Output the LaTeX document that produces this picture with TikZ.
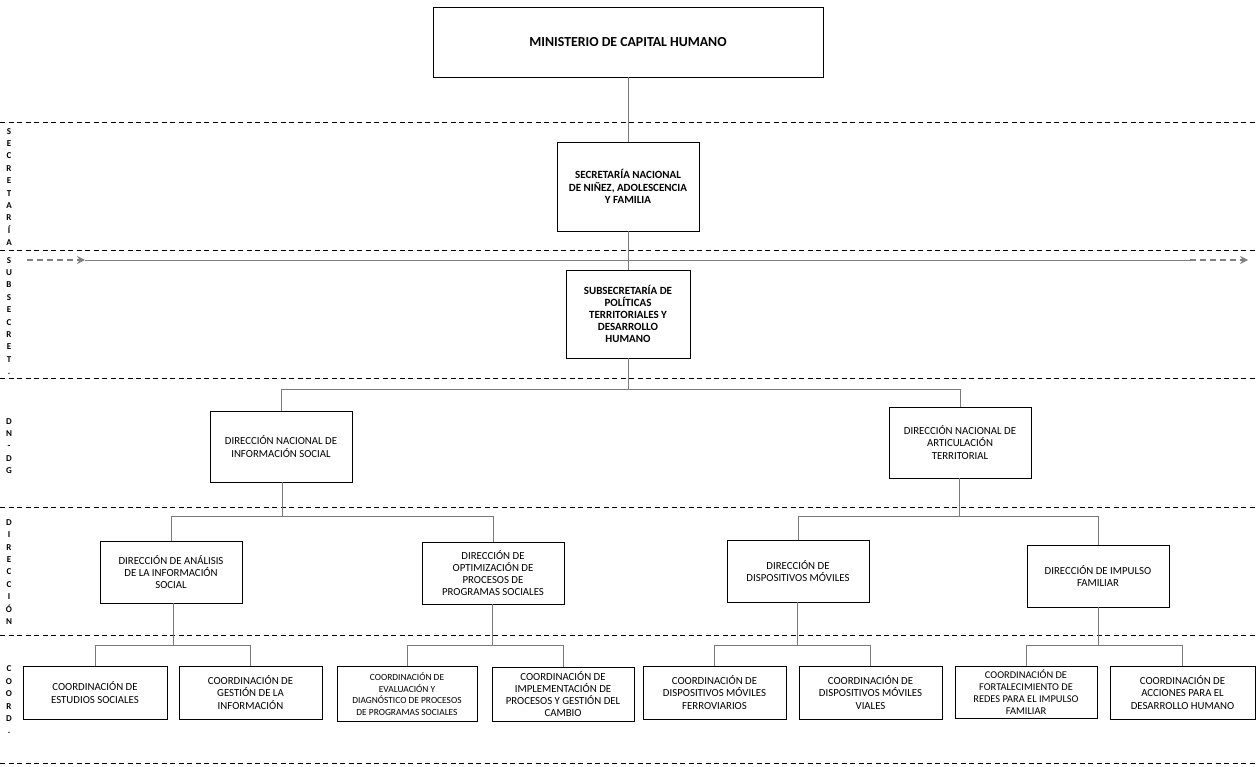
\documentclass[tikz,border=0pt]{standalone}
\usepackage{fontspec}
\setmainfont{Carlito}
\usetikzlibrary{arrows.meta}
\tikzset{
  box/.style={draw=black, line width=0.9pt, fill=white, align=center, inner sep=2pt, font=\fontsize{10.8}{12.2}\selectfont},
  bbox/.style={box, font=\fontsize{11}{12.2}\selectfont\bfseries},
  conn/.style={draw=gray!95!black, line width=0.9pt},
  sep/.style={draw=black, line width=0.8pt, dash pattern=on 5pt off 3.5pt},
  side/.style={align=center, inner sep=0pt, font=\fontsize{9}{12.4}\selectfont\bfseries},
  flow/.style={draw=gray, line width=1.1pt},
}
\begin{document}
\begin{tikzpicture}[x=1pt,y=-1pt]
\useasboundingbox (0,0) rectangle (1258,767);
% separators
\foreach \yy in {122,250,378,507,635,763} \draw[sep] (0,\yy) -- (1258,\yy);
% side labels
\node[side] (lsec) at (9,187) {S\\E\\C\\R\\E\\T\\A\\R\\Í\\A};
\node[side] (lsub) at (9,316) {S\\U\\B\\S\\E\\C\\R\\E\\T\\.};
\node[side] (ldn) at (9,446) {D\\N\\-\\D\\G};
\node[side] (ldir) at (9,572) {D\\I\\R\\E\\C\\C\\I\\Ó\\N};
\node[side] (lco) at (9,700) {C\\O\\O\\R\\D\\.};
% flow arrow
\coordinate (fa) at (27,260);
\coordinate (fb) at (85,260);
\coordinate (fc) at (1190,260);
\coordinate (fd) at (1248,260);
\draw[flow, dash pattern=on 6pt off 4pt, -{Stealth[length=8pt,width=8pt]}] (fa) -- (fb);
\draw[draw=gray, line width=0.9pt] (fb) -- (fc);
\draw[flow, dash pattern=on 6pt off 4pt, -{Stealth[length=8pt,width=8pt]}] (fc) -- (fd);
% boxes
\node[box, font=\fontsize{13.8}{16}\selectfont\bfseries, minimum width=390pt, minimum height=70pt] (min) at (628,42) {MINISTERIO DE CAPITAL HUMANO};
\node[bbox, minimum width=142pt, minimum height=89pt] (sec) at (628,186.5) {SECRETARÍA NACIONAL\\DE NIÑEZ, ADOLESCENCIA\\Y FAMILIA};
\node[bbox, minimum width=124pt, minimum height=88pt] (sub) at (628,314) {SUBSECRETARÍA DE\\POLÍTICAS\\TERRITORIALES Y\\DESARROLLO\\HUMANO};
\node[box, minimum width=142pt, minimum height=71pt] (dn1) at (281,446.5) {DIRECCIÓN NACIONAL DE\\INFORMACIÓN SOCIAL};
\node[box, minimum width=142pt, minimum height=71pt] (dn2) at (960,442.5) {DIRECCIÓN NACIONAL DE\\ARTICULACIÓN\\TERRITORIAL};
\node[box, minimum width=142pt, minimum height=62pt] (d1) at (171,572) {DIRECCIÓN DE ANÁLISIS\\DE LA INFORMACIÓN\\SOCIAL};
\node[box, minimum width=142pt, minimum height=62pt] (d2) at (493,573) {DIRECCIÓN DE\\OPTIMIZACIÓN DE\\PROCESOS DE\\PROGRAMAS SOCIALES};
\node[box, minimum width=142pt, minimum height=62pt] (d3) at (798,571) {DIRECCIÓN DE\\DISPOSITIVOS MÓVILES};
\node[box, minimum width=142pt, minimum height=62pt] (d4) at (1098,576) {DIRECCIÓN DE IMPULSO\\FAMILIAR};
\node[box, minimum width=144pt, minimum height=53pt] (c1) at (95,692.5) {COORDINACIÓN DE\\ESTUDIOS SOCIALES};
\node[box, minimum width=143pt, minimum height=53pt] (c2) at (250.5,692.5) {COORDINACIÓN DE\\GESTIÓN DE LA\\INFORMACIÓN};
\node[box, font=\fontsize{9.4}{11.6}\selectfont, minimum width=140pt, minimum height=55pt] (c3) at (407,694) {COORDINACIÓN DE\\EVALUACIÓN Y\\DIAGNÓSTICO DE PROCESOS\\DE PROGRAMAS SOCIALES};
\node[box, minimum width=142pt, minimum height=54pt] (c4) at (563,694) {COORDINACIÓN DE\\IMPLEMENTACIÓN DE\\PROCESOS Y GESTIÓN DEL\\CAMBIO};
\node[box, minimum width=143pt, minimum height=53pt] (c5) at (714.5,692.5) {COORDINACIÓN DE\\DISPOSITIVOS MÓVILES\\FERROVIARIOS};
\node[box, minimum width=143pt, minimum height=53pt] (c6) at (870.5,692.5) {COORDINACIÓN DE\\DISPOSITIVOS MÓVILES\\VIALES};
\node[box, font=\fontsize{10.4}{12.2}\selectfont, minimum width=142pt, minimum height=52pt] (c7) at (1026,692) {COORDINACIÓN DE\\FORTALECIMIENTO DE\\REDES PARA EL IMPULSO\\FAMILIAR};
\node[box, minimum width=145pt, minimum height=53pt] (c8) at (1182.5,692.5) {COORDINACIÓN DE\\ACCIONES PARA EL\\DESARROLLO HUMANO};
% connectors
\coordinate (j0) at (628,389);
\coordinate (j1) at (282,516);
\coordinate (j2) at (959,516);
\coordinate (k1) at (173,645);
\coordinate (k2) at (492,645);
\coordinate (k3) at (797,645);
\coordinate (k4) at (1098,645);
\draw[conn] (min.south) -- (sec.north);
\draw[conn] (sec.south) -- (sub.north);
\draw[conn] (sub.south) -- (j0);
\draw[conn] (j0) -| (dn1.north);
\draw[conn] (j0) -| (dn2.north);
\draw[conn] (dn1.south -| j1) -- (j1);
\draw[conn] (j1) -| (d1.north);
\draw[conn] (j1) -| (d2.north);
\draw[conn] (dn2.south -| j2) -- (j2);
\draw[conn] (j2) -| (d3.north);
\draw[conn] (j2) -| (d4.north);
\draw[conn] (d1.south -| k1) -- (k1);
\draw[conn] (k1) -| (c1.north);
\draw[conn] (k1) -| (c2.north);
\draw[conn] (d2.south -| k2) -- (k2);
\draw[conn] (k2) -| (c3.north);
\draw[conn] (k2) -| (c4.north);
\draw[conn] (d3.south -| k3) -- (k3);
\draw[conn] (k3) -| (c5.north);
\draw[conn] (k3) -| (c6.north);
\draw[conn] (d4.south -| k4) -- (k4);
\draw[conn] (k4) -| (c7.north);
\draw[conn] (k4) -| (c8.north);
\end{tikzpicture}
\end{document}
